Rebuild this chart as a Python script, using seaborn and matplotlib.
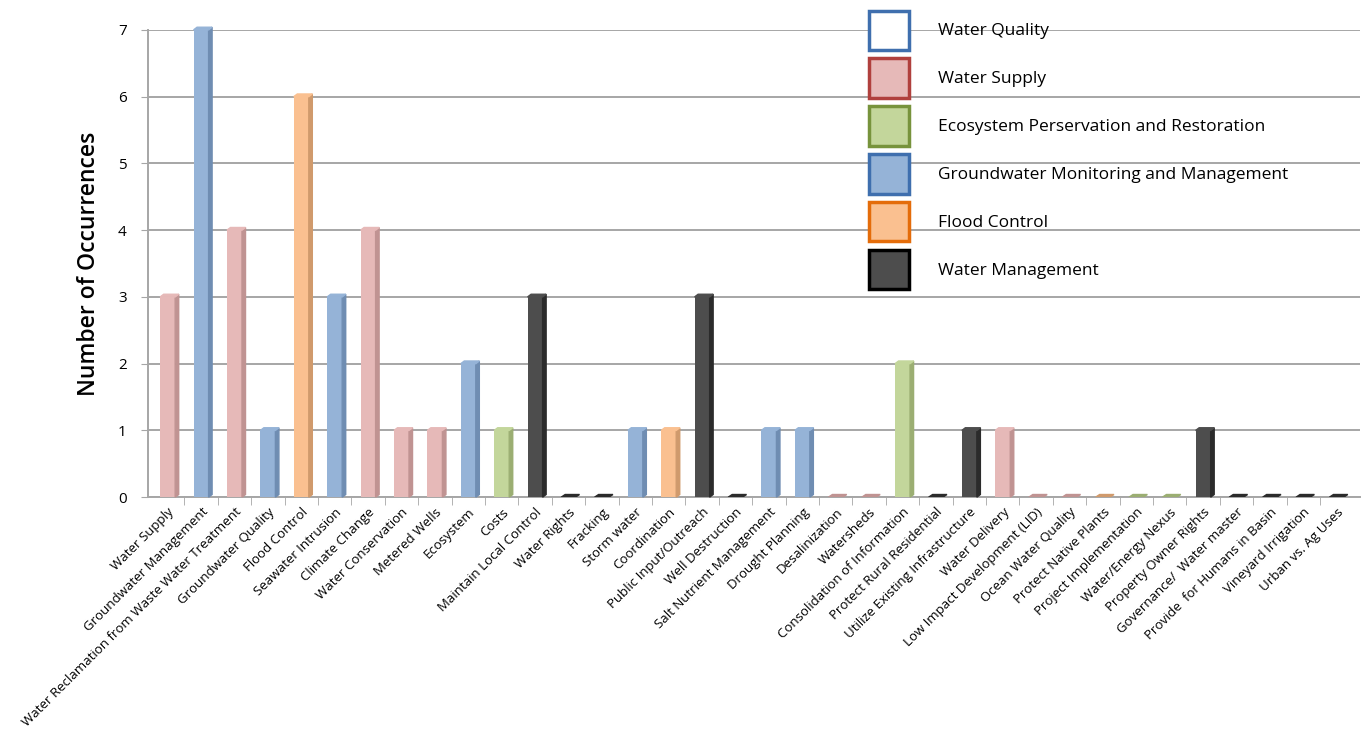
import numpy as np
import pandas as pd
import matplotlib
matplotlib.use("Agg")
import matplotlib.pyplot as plt
import seaborn as sns
from matplotlib.patches import Patch

categories = ["Water Supply", "Groundwater Management",
              "Water Reclamation from Waste Water Treatment", "Groundwater Quality",
              "Flood Control", "Seawater Intrusion", "Climate Change",
              "Water Conservation", "Metered Wells", "Ecosystem", "Costs",
              "Maintain Local Control", "Water Rights", "Fracking", "Storm water",
              "Coordination", "Public Input/Outreach", "Well Destruction",
              "Salt Nutrient Management", "Drought Planning", "Desalinization",
              "Watersheds", "Consolidation of Information", "Protect Rural Residential",
              "Utilize Existing Infrastructure", "Water Delivery",
              "Low Impact Development (LID)", "Ocean Water Quality",
              "Protect Native Plants", "Project Implementation", "Water/Energy Nexus",
              "Property Owner Rights", "Governance/  Water master",
              "Provide  for Humans in Basin", "Vineyard Irrigation", "Urban vs. Ag Uses"]
counts = [3, 7, 4, 1, 6, 3, 4, 1, 1, 2, 1, 3, 0, 0, 1, 1, 3, 0, 1, 1, 0, 0, 2, 0,
          1, 1, 0, 0, 0, 0, 0, 1, 0, 0, 0, 0]
groups = ["Water Supply", "Groundwater Monitoring and Management", "Water Supply",
          "Groundwater Monitoring and Management", "Flood Control",
          "Groundwater Monitoring and Management", "Water Supply", "Water Supply",
          "Water Supply", "Groundwater Monitoring and Management",
          "Ecosystem Perservation and Restoration", "Water Management",
          "Water Management", "Water Management",
          "Groundwater Monitoring and Management", "Flood Control",
          "Water Management", "Water Management",
          "Groundwater Monitoring and Management",
          "Groundwater Monitoring and Management", "Water Supply", "Water Supply",
          "Ecosystem Perservation and Restoration", "Water Management",
          "Water Management", "Water Supply", "Water Supply", "Water Supply",
          "Flood Control", "Ecosystem Perservation and Restoration",
          "Ecosystem Perservation and Restoration", "Water Management",
          "Water Management", "Water Management", "Water Management",
          "Water Management"]

legend_labels = ["Water Quality", "Water Supply", "Ecosystem Perservation and Restoration",
                 "Groundwater Monitoring and Management", "Flood Control",
                 "Water Management"]
face = {"Water Quality": "#ffffff", "Water Supply": "#e6b9b8",
        "Ecosystem Perservation and Restoration": "#c3d69b",
        "Groundwater Monitoring and Management": "#95b3d7",
        "Flood Control": "#fac090", "Water Management": "#4d4d4d"}
edge = {"Water Quality": "#3f6fae", "Water Supply": "#b0403d",
        "Ecosystem Perservation and Restoration": "#77933c",
        "Groundwater Monitoring and Management": "#3f6fae",
        "Flood Control": "#e46c0a", "Water Management": "#000000"}
side = {"Water Supply": "#c09392", "Ecosystem Perservation and Restoration": "#9bae72",
        "Groundwater Monitoring and Management": "#6f8db2",
        "Flood Control": "#d09a6c", "Water Management": "#2b2b2b"}

df = pd.DataFrame({"category": categories, "count": counts, "group": groups})
df["color"] = df["group"].map(face)

plt.rcParams["font.family"] = ["Open Sans", "DejaVu Sans"]
fig = plt.figure(figsize=(13.67, 7.29), dpi=100)
ax = fig.add_axes([0.108, 0.318, 0.887, 0.641])

pal = dict(zip(df["category"], df["color"]))
sns.barplot(data=df, x="category", y="count", hue="category", palette=pal,
            width=0.45, legend=False, ax=ax, saturation=1, zorder=3)
for p in ax.patches:
    p.set_clip_on(False)

# 3D-ish side faces and flat slabs for zero values
pos = np.arange(len(df))
for i, row in df.iterrows():
    sc = side[row["group"]]
    if row["count"] > 0:
        ax.fill([i + 0.225, i + 0.33, i + 0.33, i + 0.225],
                [0, 0.04, row["count"] + 0.04, row["count"]], color=sc, zorder=4,
                clip_on=False)
        ax.fill([i - 0.225, i - 0.12, i + 0.33, i + 0.225],
                [row["count"], row["count"] + 0.04, row["count"] + 0.04, row["count"]],
                color=row["color"], zorder=4, clip_on=False)
    else:
        ax.fill([i - 0.22, i - 0.1, i + 0.33, i + 0.21],
                [0.0, 0.04, 0.04, 0.0], color=sc, zorder=4)

ax.set_ylim(0, 7)
ax.set_xlim(-0.6, len(df) - 0.3)
ax.set_yticks(range(8))
ax.yaxis.grid(True, color="#a6a6a6", linewidth=1.4, zorder=0)
ax.set_axisbelow(True)
for s in ["top", "right"]:
    ax.spines[s].set_visible(False)
ax.spines["left"].set_color("#a6a6a6")
ax.spines["left"].set_linewidth(1.4)
ax.spines["bottom"].set_color("#a6a6a6")
ax.spines["bottom"].set_linewidth(1.4)
ax.tick_params(axis="y", length=5, color="#a6a6a6", labelsize=11, pad=10)
ax.tick_params(axis="x", which="major", length=0, pad=6)
ax.set_xticks(pos)
ax.set_xticklabels(categories, rotation=45, ha="right", rotation_mode="anchor",
                   fontsize=9.5)
ax.set_xticks(pos[:-1] + 0.5, minor=True)
ax.tick_params(axis="x", which="minor", length=6, color="#a6a6a6")
ax.set_xlabel("")
ax.set_ylabel("Number of Occurrences", fontsize=16.5, fontweight="semibold",
              labelpad=12)

handles = [Patch(facecolor=face[g], edgecolor=edge[g], linewidth=2.5) for g in legend_labels]
fig.legend(handles, legend_labels, loc="upper left", bbox_to_anchor=(0.624, 1.007),
           frameon=False, fontsize=12.5, handlelength=2.3, handleheight=3.1,
           labelspacing=0.5, handletextpad=1.7)

fig.savefig("out.png", dpi=100)
